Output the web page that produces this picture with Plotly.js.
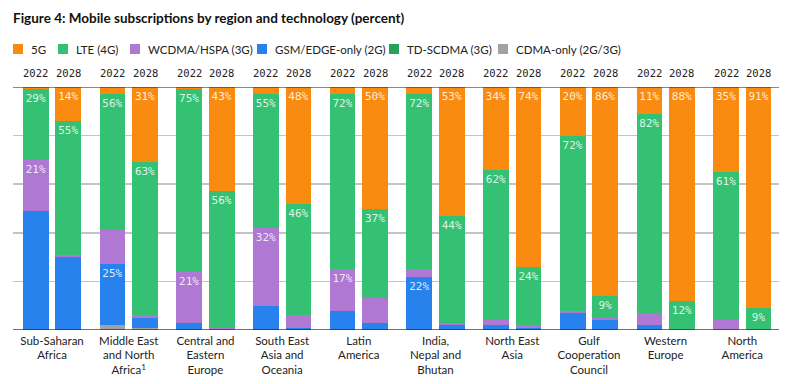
<!DOCTYPE html>
<html>
<head>
<meta charset="utf-8">
<script src="https://cdn.plot.ly/plotly-3.0.1.min.js"></script>
<style>html,body{margin:0;padding:0;background:#fff;}#chart{width:795px;height:384px;}</style>
</head>
<body>
<div id="chart"></div>
<script>
// ---- data ----
const regions = ["Sub-Saharan<br>Africa", "Middle East<br>and North<br>Africa<sup>1</sup>", "Central and<br>Eastern<br>Europe",
  "South East<br>Asia and<br>Oceania", "Latin<br>America", "India,<br>Nepal and<br>Bhutan", "North East<br>Asia",
  "Gulf<br>Cooperation<br>Council", "Western<br>Europe", "North<br>America"];
const years = ["2022", "2028"];
const techNames = ["5G", "LTE (4G)", "WCDMA/HSPA (3G)", "GSM/EDGE-only (2G)", "TD-SCDMA (3G)", "CDMA-only (2G/3G)"];
// values ordered region by region: [region0 2022, region0 2028, region1 2022, ...]
const v5G     = [1,14, 3,31, 1,43, 3,48, 3,50, 3,53, 34,74, 20,86, 11,88, 35,91];
const vLTE    = [29,55, 56,63, 75,56, 55,46, 72,37, 72,44, 62,24, 72,9, 82,12, 61,9];
const vWCDMA  = [21,1, 14,1, 21,1, 32,5, 17,10, 3,1, 2,1, 1,1, 5,0, 4,0];
const vGSM    = [49,30, 25,4, 3,0, 10,1, 8,3, 22,2, 2,1, 7,4, 2,0, 0,0];
const vTDS    = [0,0, 0,0, 0,0, 0,0, 0,0, 0,0, 0,0, 0,0, 0,0, 0,0];
const vCDMA   = [0,0, 2,1, 0,0, 0,0, 0,0, 0,0, 0,0, 0,0, 0,0, 0,0];
// which segments carry a printed label (1 = shown)
const lab5G    = [0,1, 0,1, 0,1, 0,1, 0,1, 0,1, 1,1, 1,1, 1,1, 1,1];
const labLTE   = [1,1, 1,1, 1,1, 1,1, 1,1, 1,1, 1,1, 1,1, 1,1, 1,1];
const labWCDMA = [1,0, 0,0, 1,0, 1,0, 1,0, 0,0, 0,0, 0,0, 0,0, 0,0];
const labGSM   = [0,0, 1,0, 0,0, 0,0, 0,0, 1,0, 0,0, 0,0, 0,0, 0,0];
const labNone  = [0,0, 0,0, 0,0, 0,0, 0,0, 0,0, 0,0, 0,0, 0,0, 0,0];

// ---- styling ----
const colors = ["#F98C10", "#35C174", "#AF78D2", "#2882EE", "#27A15B", "#A2A2A2"];
const seriesVals = [v5G, vLTE, vWCDMA, vGSM, vTDS, vCDMA];
const seriesLabs = [lab5G, labLTE, labWCDMA, labGSM, labNone, labNone];

const OFF = 0.212, BW = 0.335;
const xs = [];
regions.forEach((r, i) => years.forEach((y, j) => xs.push(i + (j === 0 ? -OFF : OFF))));

const traces = [];
for (let k = techNames.length - 1; k >= 0; k--) {
  traces.push({
    type: "bar", name: techNames[k], x: xs, y: seriesVals[k], width: BW,
    marker: {color: colors[k], line: {width: 0}},
    text: seriesVals[k].map((v, i) => seriesLabs[k][i] ? v + "%" : ""),
    textposition: "inside", insidetextanchor: "end", textangle: 0, constraintext: "none",
    textfont: {family: "DejaVu Sans Mono", size: 11, color: "rgba(255,255,255,0.85)"},
    hoverinfo: "skip", showlegend: false
  });
}

// pixel helpers (plot area: x 13..779, y 87..330)
const L = 13, R = 779, T = 87, B = 330;
const px = p => (p - L) / (R - L);
const py = p => (B - p) / (B - T);

const shapes = [
  {type: "line", xref: "paper", yref: "y", x0: 0, x1: 1, y0: 100, y1: 100, layer: "above",
   line: {color: "rgba(40,40,40,0.55)", width: 2}},
  {type: "line", xref: "paper", yref: "y", x0: 0, x1: 1, y0: 0, y1: 0, layer: "above",
   line: {color: "rgba(40,40,40,0.65)", width: 2}}
];
const annotations = [];
const legX = [13, 58, 130, 257, 389, 498];
techNames.forEach((n, k) => {
  shapes.push({type: "rect", xref: "paper", yref: "paper", x0: px(legX[k]), x1: px(legX[k] + 10),
    y0: py(54), y1: py(44), fillcolor: colors[k], line: {width: 0}});
  annotations.push({xref: "paper", yref: "paper", x: px(legX[k] + 16), y: py(49), xanchor: "left", yanchor: "middle",
    text: n, showarrow: false, font: {family: "Lato", size: 11.5, color: "#222"}});
});
xs.forEach((x, i) => {
  annotations.push({xref: "x", yref: "paper", x: x, y: 1, yanchor: "middle", yshift: 14, showarrow: false,
    text: years[i % 2], font: {family: "DejaVu Sans Mono", size: 10.5, color: "#222"}});
});

const layout = {
  width: 795, height: 384,
  margin: {l: L, r: 795 - R, t: T, b: 384 - B, pad: 0},
  paper_bgcolor: "#fff", plot_bgcolor: "#fff",
  barmode: "stack", showlegend: false,
  title: {text: "<b>Figure 4: Mobile subscriptions by region and technology (percent)</b>",
    x: 13 / 795, xref: "container", xanchor: "left", y: 1 - 18 / 384, yref: "container", yanchor: "middle",
    font: {family: "Lato", size: 13.5, color: "#111"}},
  xaxis: {range: [-0.509, 9.478], tickvals: regions.map((r, i) => i), ticktext: regions, showgrid: false,
    zeroline: false, showline: false, ticks: "", ticklabelstandoff: 2,
    tickfont: {family: "Lato", size: 11.5, color: "#222"}, fixedrange: true},
  yaxis: {range: [0, 100], dtick: 20, showgrid: true, gridcolor: "#c4c4c4", gridwidth: 1.5, zeroline: false,
    showticklabels: false, showline: false, ticks: "", fixedrange: true},
  shapes: shapes, annotations: annotations
};
Plotly.newPlot("chart", traces, layout, {displayModeBar: false, staticPlot: true});
</script>
</body>
</html>
